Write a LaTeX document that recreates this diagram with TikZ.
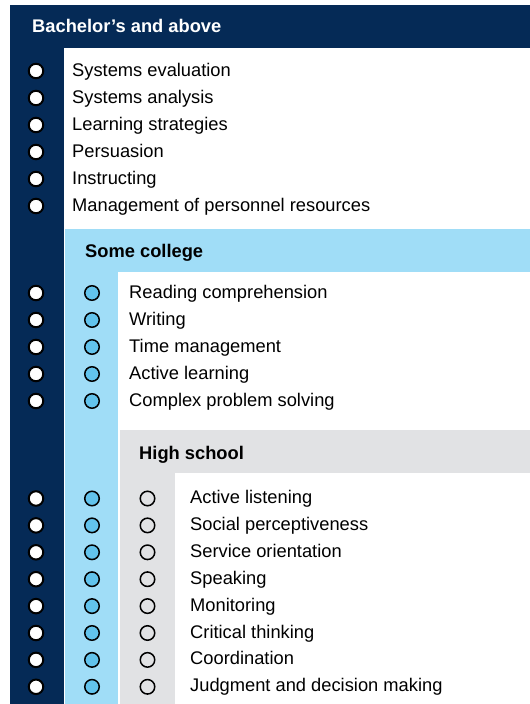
\documentclass[tikz,border=0pt]{standalone}
\usepackage{fontspec}
\setmainfont{Liberation Sans}

\definecolor{navy}{HTML}{052A56}
\definecolor{paleblue}{HTML}{A0DDF7}
\definecolor{dotblue}{HTML}{62C3EC}
\definecolor{palegrey}{HTML}{E1E2E4}

\begin{document}
\begin{tikzpicture}[
        x=1pt, y=-1pt,
        skill/.style={anchor=base west, inner sep=0pt, font=\fontsize{18.3}{22}\selectfont},
        level/.style={anchor=base west, inner sep=0pt, font=\fontsize{18.3}{22}\selectfont\bfseries},
        dot/.style={circle, draw=black, minimum size=14.5pt, inner sep=0pt},
        bachdot/.style={dot, fill=white, line width=2pt},
        colldot/.style={dot, fill=dotblue, line width=1.5pt},
        schooldot/.style={dot, line width=1.5pt},
    ]
        \useasboundingbox (0,0) rectangle (530,704);

        % Bands behind the three levels
        \fill[navy] (10,5) rectangle (530,48);
        \fill[navy] (10,5) rectangle (63.5,704);
        \fill[paleblue] (65,229) rectangle (530,272);
        \fill[paleblue] (65,229) rectangle (118,704);
        \fill[palegrey] (120,430) rectangle (530,473);
        \fill[palegrey] (120,430) rectangle (175,704);

        % Level headings
        \node[level, text=white] (bachelor) at (32,32) {Bachelor’s and above};
        \node[level] (college) at (85,257) {Some college};
        \node[level] (school) at (139,459) {High school};

        % Skills needed from a bachelor's degree on
        \foreach \skill [count=\i] in {Systems evaluation, Systems analysis, Learning strategies,
                Persuasion, Instructing, Management of personnel resources} {
            \node[skill] (b\i) at (72, 49+27*\i) {\skill};
            \node[bachdot] (bd\i) at (36, 44+27*\i) {};
        }

        % Skills needed from some college on
        \foreach \skill [count=\i] in {Reading comprehension, Writing, Time management,
                Active learning, Complex problem solving} {
            \node[skill] (c\i) at (129, 271+27*\i) {\skill};
            \node[bachdot] (cd\i) at (36, 266+27*\i) {};
            \node[colldot] (cc\i) at (92, 266+27*\i) {};
        }

        % Skills needed from high school on
        \foreach \skill [count=\i] in {Active listening, Social perceptiveness, Service orientation,
                Speaking, Monitoring, Critical thinking, Coordination,
                Judgment and decision making} {
            \node[skill] (h\i) at (190, 476.6+26.9*\i) {\skill};
            \node[bachdot] (hd\i) at (36, 471.6+26.9*\i) {};
            \node[colldot] (hc\i) at (92, 471.6+26.9*\i) {};
            \node[schooldot] (hs\i) at (147.5, 471.6+26.9*\i) {};
        }

    \end{tikzpicture}
\end{document}
